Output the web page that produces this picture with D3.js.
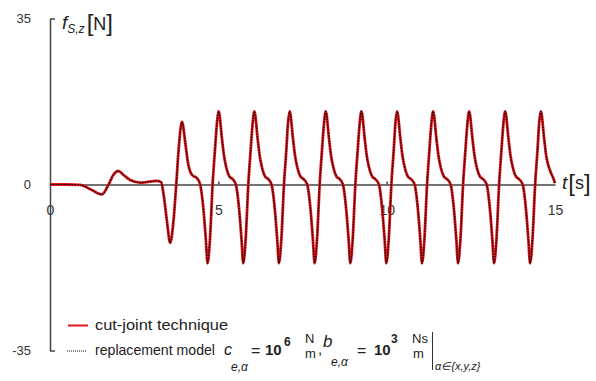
<!DOCTYPE html>
<meta charset="utf-8">
<style>
body { margin: 0; background: #fff; }
svg text { font-family: "Liberation Sans", Arial, sans-serif; }
.axis path, .axis line { stroke: #444; stroke-width: 1.5; }
.axis text { fill: #333; }
</style>
<svg width="596" height="381"></svg>
<script src="https://d3js.org/d3.v7.min.js"></script>
<script>

// time [s] and f_S,z [N]
var time = [
  0, 0.5, 0.9, 1.2, 1.54, 1.74, 1.88, 2.03, 2.2, 2.38, 2.68, 2.95, 3.17, 3.3,
  3.37, 3.47, 3.57, 3.67, 3.75, 3.82, 3.92,
  4.02, 4.10, 4.22, 4.37, 4.46, 4.56, 4.63, 4.68, 4.75, 4.83, 4.90, 4.96, 5.01,
  5.11, 5.17, 5.23, 5.33, 5.43, 5.52, 5.62, 5.69, 5.74, 5.81, 5.89, 5.96, 6.02, 6.07,
  6.17, 6.23, 6.29, 6.39, 6.49, 6.58, 6.68, 6.75, 6.80, 6.87, 6.95, 7.02, 7.07, 7.12,
  7.22, 7.28, 7.34, 7.44, 7.54, 7.64, 7.74, 7.81, 7.86, 7.93, 8.01, 8.08, 8.14, 8.19,
  8.29, 8.35, 8.41, 8.51, 8.61, 8.70, 8.80, 8.87, 8.92, 8.99, 9.07, 9.14, 9.20, 9.25,
  9.35, 9.41, 9.47, 9.57, 9.67, 9.77, 9.87, 9.94, 9.99, 10.06, 10.14, 10.21, 10.26, 10.31,
  10.41, 10.47, 10.53, 10.63, 10.73, 10.83, 10.93, 11.00, 11.05, 11.12, 11.20, 11.27, 11.33, 11.38,
  11.48, 11.54, 11.60, 11.70, 11.80, 11.90, 12.00, 12.07, 12.12, 12.19, 12.27, 12.34, 12.40, 12.45,
  12.55, 12.61, 12.67, 12.77, 12.87, 12.97, 13.07, 13.14, 13.19, 13.26, 13.34, 13.41, 13.47, 13.52,
  13.62, 13.68, 13.74, 13.84, 13.94, 14.04, 14.14, 14.21, 14.26, 14.33, 14.41, 14.48, 14.53, 14.58,
  14.68, 14.74, 14.85, 14.95, 15.0
];

var cutJoint = [
  0, 0, -0.1, -1.0, -2.1, 0, 2.0, 2.85, 1.9, 0.95, 0.4, 0.6, 0.75, 0.5,
  -1.9, -7.5, -12.3, -7.5, 0, 7.3, 13.2,
  8.7, 4.5, 2.0, 1.3, 0, -5.4, -11.7, -16.6, -11.7, 0, 7.3, 13.0, 15.4,
  9.5, 6.0, 3.8, 1.7, 1.1, 0, -5.4, -11.7, -16.6, -11.7, 0, 7.3, 13.0, 15.4,
  9.5, 6.0, 3.8, 1.7, 1.1, 0, -5.4, -11.7, -16.6, -11.7, 0, 7.3, 13.0, 15.4,
  9.5, 6.0, 3.8, 1.7, 1.1, 0, -5.4, -11.7, -16.6, -11.7, 0, 7.3, 13.0, 15.4,
  9.5, 6.0, 3.8, 1.7, 1.1, 0, -5.4, -11.7, -16.6, -11.7, 0, 7.3, 13.0, 15.4,
  9.5, 6.0, 3.8, 1.7, 1.1, 0, -5.4, -11.7, -16.6, -11.7, 0, 7.3, 13.0, 15.4,
  9.5, 6.0, 3.8, 1.7, 1.1, 0, -5.4, -11.7, -16.6, -11.7, 0, 7.3, 13.0, 15.4,
  9.5, 6.0, 3.8, 1.7, 1.1, 0, -5.4, -11.7, -16.6, -11.7, 0, 7.3, 13.0, 15.4,
  9.5, 6.0, 3.8, 1.7, 1.1, 0, -5.4, -11.7, -16.6, -11.7, 0, 7.3, 13.0, 15.4,
  9.5, 6.0, 3.8, 1.7, 1.1, 0, -5.4, -11.7, -16.6, -11.7, 0, 7.3, 13.0, 15.4,
  9.5, 6.0, 3.0, 1.3, 0.3
];

// the replacement model lies on top of the cut-joint curve everywhere
var replacement = cutJoint;

var xTicks = [0, 5, 10, 15],
    yTicks = [-35, 0, 35];

var font = "Liberation Sans, Arial, sans-serif";

var svg = d3.select("svg");

var x = d3.scaleLinear().domain([0, 15]).range([50, 555]),
    y = d3.scaleLinear().domain([-35, 35]).range([350.5, 18.5]);

// y axis: bracket-like line with short feet pointing right
svg.append("g")
    .attr("class", "axis")
    .attr("transform", "translate(50,0)")
    .call(d3.axisLeft(y).tickValues(yTicks).tickSize(-5).tickSizeOuter(0).tickPadding(19)
      .tickFormat(function(d) { return d; }))
    .call(function(g) {
      g.attr("font-family", font);
      g.selectAll(".tick line").filter(function(d) { return d === 0; }).remove();
      g.selectAll("text").attr("font-size", 13).attr("dy", "0.32em");
    });

// x axis through zero
svg.append("g")
    .attr("class", "axis")
    .attr("transform", "translate(0," + y(0) + ")")
    .call(d3.axisBottom(x).tickValues(xTicks).tickSizeInner(-3).tickSizeOuter(0).tickPadding(21))
    .call(function(g) {
      g.attr("font-family", font);
      g.selectAll(".tick line").filter(function(d) { return d === 0 || d === 15; }).remove();
      g.selectAll("text").attr("font-size", 14);
    });

var pts = d3.range(time.length);

var line = function(vals) {
  return d3.line()
      .curve(d3.curveMonotoneX)
      .x(function(i) { return x(time[i]); })
      .y(function(i) { return y(vals[i]); });
};

svg.append("path")
    .datum(pts)
    .attr("fill", "none")
    .attr("stroke", "#e5161b")
    .attr("stroke-width", 2.8)
    .attr("d", line(cutJoint));

svg.append("path")
    .datum(pts)
    .attr("fill", "none")
    .attr("stroke", "#000")
    .attr("stroke-width", 1.2)
    .attr("stroke-dasharray", "1.6,1.1")
    .attr("d", line(replacement));

// axis labels, one text each so the brackets sit next to the unit
var yl = svg.append("text").attr("x", 62).attr("y", 29).attr("fill", "#222").attr("font-family", font);
yl.append("tspan").attr("font-size", 19).attr("font-style", "italic").text("f");
yl.append("tspan").attr("font-size", 12).attr("font-style", "italic").attr("dy", 4).text("S,z");
yl.append("tspan").attr("font-size", 24).attr("dy", -2).attr("dx", 2).attr("font-weight", 300).text("[");
yl.append("tspan").attr("font-size", 18).attr("dy", -1).text("N");
yl.append("tspan").attr("font-size", 24).attr("dy", 1).attr("font-weight", 300).text("]");

var xl = svg.append("text").attr("x", 562).attr("y", 189).attr("fill", "#222").attr("font-family", font);
xl.append("tspan").attr("font-size", 19).attr("font-style", "italic").text("t");
xl.append("tspan").attr("font-size", 24).attr("dy", 2).attr("dx", 1).text("[");
xl.append("tspan").attr("font-size", 18).attr("dy", -2).text("s");
xl.append("tspan").attr("font-size", 24).attr("dy", 2).text("]");

// legend
var lg = svg.append("g").attr("fill", "#222").attr("font-family", font);
lg.append("line").attr("x1", 68).attr("x2", 88).attr("y1", 325.5).attr("y2", 325.5)
    .attr("stroke", "#e5161b").attr("stroke-width", 2);
lg.append("text").attr("x", 95).attr("y", 330).attr("font-size", 15.5)
    .attr("textLength", 133).attr("lengthAdjust", "spacingAndGlyphs").text("cut-joint technique");

lg.append("line").attr("x1", 67).attr("x2", 87).attr("y1", 351).attr("y2", 351)
    .attr("stroke", "#111").attr("stroke-width", 1).attr("stroke-dasharray", "1,1");
lg.append("text").attr("x", 95).attr("y", 355).attr("font-size", 15)
    .attr("textLength", 120).attr("lengthAdjust", "spacingAndGlyphs").text("replacement model");

lg.append("text").attr("x", 224).attr("y", 355).attr("font-size", 16).attr("font-style", "italic").text("c");
lg.append("text").attr("x", 231).attr("y", 371).attr("font-size", 12).attr("font-style", "italic").text("e,α");
lg.append("text").attr("x", 251).attr("y", 356).attr("font-size", 16).text("=");
lg.append("text").attr("x", 265).attr("y", 355).attr("font-size", 15).attr("font-weight", "bold").text("10");
lg.append("text").attr("x", 284).attr("y", 346).attr("font-size", 12).attr("font-weight", "bold").text("6");
lg.append("text").attr("x", 305).attr("y", 343).attr("font-size", 13).text("N");
lg.append("text").attr("x", 305).attr("y", 358).attr("font-size", 13).text("m");
lg.append("text").attr("x", 318).attr("y", 354).attr("font-size", 15).text(",");
lg.append("text").attr("x", 323).attr("y", 347).attr("font-size", 17).attr("font-style", "italic").text("b");
lg.append("text").attr("x", 331).attr("y", 366).attr("font-size", 12).attr("font-style", "italic").text("e,α");
lg.append("text").attr("x", 357).attr("y", 356).attr("font-size", 16).text("=");
lg.append("text").attr("x", 374).attr("y", 355).attr("font-size", 15).attr("font-weight", "bold").text("10");
lg.append("text").attr("x", 391).attr("y", 343).attr("font-size", 12).attr("font-weight", "bold").text("3");
lg.append("text").attr("x", 412).attr("y", 343).attr("font-size", 13).text("Ns");
lg.append("text").attr("x", 413).attr("y", 358).attr("font-size", 13).text("m");
lg.append("line").attr("x1", 432.5).attr("x2", 432.5).attr("y1", 332).attr("y2", 370)
    .attr("stroke", "#333").attr("stroke-width", 1);
lg.append("text").attr("x", 435).attr("y", 370).attr("font-size", 11).attr("font-style", "italic").text("α∈{x,y,z}");

</script>
